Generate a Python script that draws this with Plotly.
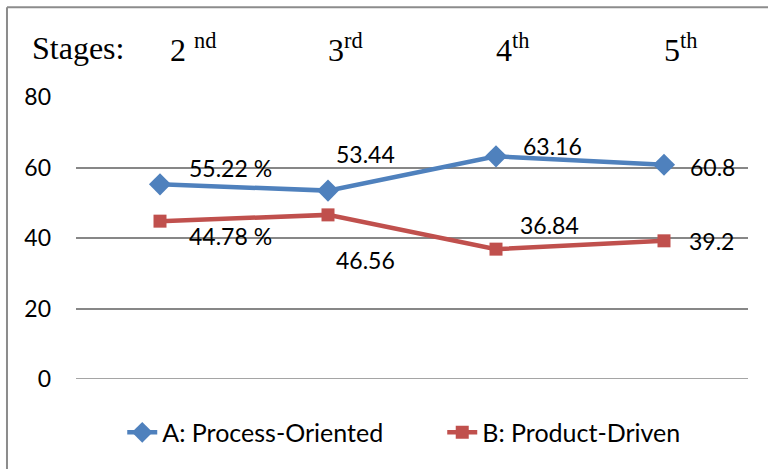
import plotly.graph_objects as go

stages = ["2", "3", "4", "5"]
stage_sups = ["nd", "rd", "th", "th"]
categories = ["2nd", "3rd", "4th", "5th"]
process_oriented = [55.22, 53.44, 63.16, 60.8]
product_driven = [44.78, 46.56, 36.84, 39.2]
process_labels = ["55.22 %", "53.44", "63.16", "60.8"]
product_labels = ["44.78 %", "46.56", "36.84", "39.2"]
y_ticks = [0, 20, 40, 60, 80]

BLUE = "#4F81BD"
RED = "#C0504D"
FONT = "Lato, Open Sans, sans-serif"
FS = 23

fig = go.Figure()
fig.add_trace(go.Scatter(
    x=categories, y=process_oriented, mode="lines+markers",
    name="A: Process-Oriented",
    line=dict(color=BLUE, width=4.5),
    marker=dict(symbol="diamond", size=17, color=BLUE),
))
fig.add_trace(go.Scatter(
    x=categories, y=product_driven, mode="lines+markers",
    name="B: Product-Driven",
    line=dict(color=RED, width=4.5),
    marker=dict(symbol="square", size=13, color=RED),
))

annotations = []
a_off = [(70, 16), (37, 37), (56, 10), (48, -2)]
for c, v, t, (dx, dy) in zip(categories, process_oriented, process_labels, a_off):
    annotations.append(dict(x=c, y=v, xref="x", yref="y", text=t, showarrow=False,
                            xshift=dx, yshift=dy, font=dict(family=FONT, size=FS, color="black")))
b_off = [(70, -15), (37, -45), (53, 24), (47, 0)]
for c, v, t, (dx, dy) in zip(categories, product_driven, product_labels, b_off):
    annotations.append(dict(x=c, y=v, xref="x", yref="y", text=t, showarrow=False,
                            xshift=dx, yshift=dy, font=dict(family=FONT, size=FS, color="black")))

TFONT = "Liberation Serif, Times New Roman, serif"
annotations.append(dict(x=-0.068, y=1.175, xref="paper", yref="paper", text="Stages:",
                        xanchor="left", yanchor="middle", showarrow=False,
                        font=dict(family=TFONT, size=32, color="black")))
for i, (c, s, sup) in enumerate(zip(categories, stages, stage_sups)):
    txt = (s + " <sup>" + sup + "</sup>") if i == 0 else (s + "<sup>" + sup + "</sup>")
    annotations.append(dict(x=c, y=1.175, xref="x", yref="paper", text=txt,
                            xanchor="left", yanchor="middle", showarrow=False,
                            xshift=8 if i == 0 else -2,
                            font=dict(family=TFONT, size=32, color="black")))

fig.update_layout(
    width=768, height=469,
    margin=dict(l=76, r=20, t=97, b=90, autoexpand=False),
    paper_bgcolor="white", plot_bgcolor="white",
    showlegend=True,
    legend=dict(orientation="h", x=0.545, xanchor="center", y=-0.19, yanchor="middle",
                font=dict(family=FONT, size=25, color="black"),
                entrywidth=275, traceorder="normal"),
    annotations=annotations,
    xaxis=dict(type="category", showgrid=False, showline=False, showticklabels=False,
               zeroline=False, range=[-0.5, 3.5]),
    yaxis=dict(range=[0, 80], tickvals=y_ticks, showgrid=True, gridcolor="#878787",
               gridwidth=1.5, zeroline=False, showline=False,
               tickfont=dict(family=FONT, size=FS, color="black"), ticks="",
               ticklabelstandoff=24),
    shapes=[
        dict(type="line", xref="paper", yref="paper", x0=-0.1027, x1=1.03, y0=1.318, y1=1.318,
             line=dict(color="#8c8c8c", width=2)),
        dict(type="line", xref="paper", yref="paper", x0=-0.1027, x1=-0.1027, y0=1.318, y1=-0.33,
             line=dict(color="#8c8c8c", width=2)),
    ],
)
fig.add_hline(y=0, line=dict(color="#878787", width=1.5))

fig.write_html("out.html")
